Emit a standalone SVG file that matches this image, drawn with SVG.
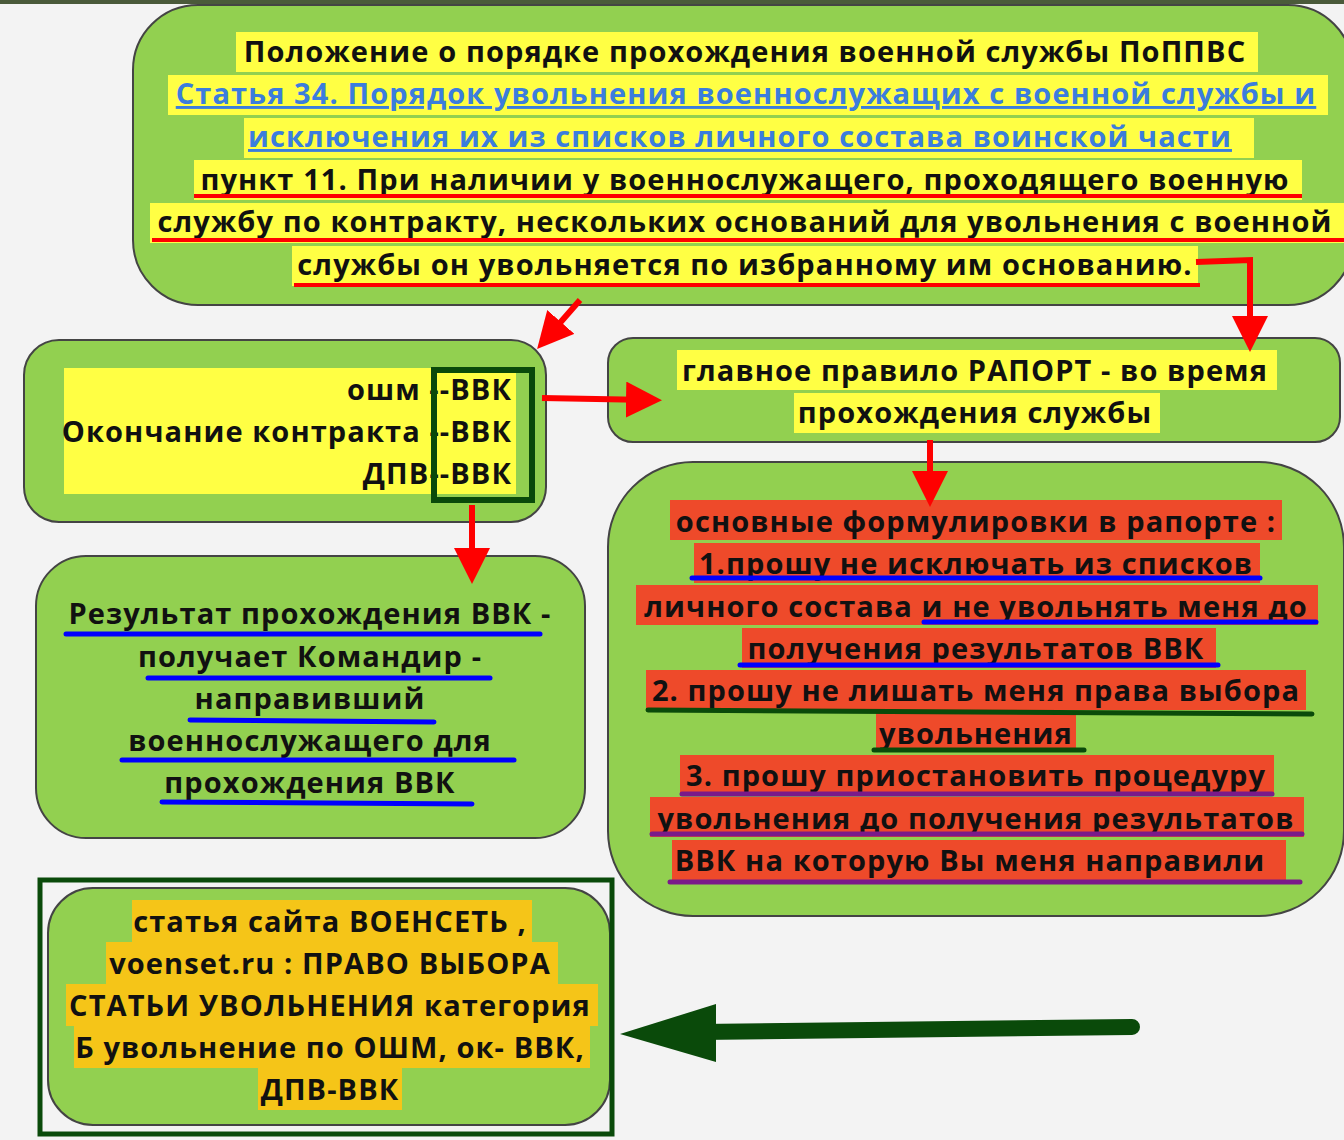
<svg xmlns="http://www.w3.org/2000/svg" width="1344" height="1140" viewBox="0 0 1344 1140">
<style>
.box{fill:#92d050;stroke:#444;stroke-width:2}
.t{font-family:"Open Sans","DejaVu Sans",sans-serif;font-weight:bold;font-size:29px;letter-spacing:1.1px;fill:#111;text-anchor:middle}
.lnk{fill:#3b7ddd;text-decoration:underline}
.y{fill:#ffff44}.o{fill:#ee4a2a}.g{fill:#f5c518}
.ur{stroke:#f00;stroke-width:4}.ub{stroke:#00f;stroke-width:5;stroke-linecap:round}
.ug{stroke:#0a4a0a;stroke-width:5;stroke-linecap:round}.up{stroke:#7a1a8a;stroke-width:5;stroke-linecap:round}
.ra{stroke:#f00;stroke-width:6;fill:none}
</style>
<defs>
<marker id="rh" markerWidth="6" markerHeight="6" refX="4" refY="3" orient="auto" markerUnits="strokeWidth"><path d="M0,0L6,3L0,6Z" fill="#f00"/></marker>
</defs>
<rect width="1344" height="1140" fill="#f3f3f3"/>
<rect width="1344" height="4" fill="#4a5a3a"/>
<g id="top">
<rect class="box" x="133" y="5" width="1220" height="300" rx="65"/>
<rect class="y" x="236" y="32" width="1022" height="40"/>
<rect class="y" x="168" y="75" width="1160" height="40"/>
<rect class="y" x="244" y="118" width="1010" height="40"/>
<rect class="y" x="194" y="160" width="1108" height="40"/>
<rect class="y" x="150" y="203" width="1194" height="40"/>
<rect class="y" x="292" y="246" width="906" height="40"/>
<text class="t" x="745" y="62">Положение о порядке прохождения военной службы ПоППВС</text>
<text class="t lnk" x="746" y="104">Статья 34. Порядок увольнения военнослужащих с военной службы и</text>
<text class="t lnk" x="740" y="147">исключения их из списков личного состава воинской части</text>
<text class="t" x="745" y="190">пункт 11. При наличии у военнослужащего, проходящего военную</text>
<text class="t" x="745" y="232">службу по контракту, нескольких оснований для увольнения с военной</text>
<text class="t" x="745" y="275">службы он увольняется по избранному им основанию.</text>
<line class="ur" x1="194" y1="196" x2="1302" y2="196"/>
<line class="ur" x1="152" y1="240" x2="1344" y2="240"/>
<line class="ur" x1="294" y1="285" x2="1200" y2="285"/>
</g>
<g id="oshm">
<rect class="box" x="24" y="340" width="522" height="182" rx="35"/>
<rect class="y" x="64" y="368" width="452" height="126"/>
<text class="t" x="512" y="400" style="text-anchor:end">ошм --ВВК</text>
<text class="t" x="512" y="442" style="text-anchor:end">Окончание контракта --ВВК</text>
<text class="t" x="512" y="484" style="text-anchor:end">ДПВ--ВВК</text>
<rect x="434" y="370" width="98" height="130" fill="none" stroke="#0a4a0a" stroke-width="6"/>
</g>
<g id="rule">
<rect class="box" x="608" y="338" width="732" height="104" rx="25"/>
<rect class="y" x="677" y="350" width="600" height="40"/>
<rect class="y" x="794" y="393" width="366" height="40"/>
<text class="t" x="975" y="381">главное правило РАПОРТ - во время</text>
<text class="t" x="975" y="423">прохождения службы</text>
</g>
<g id="form">
<rect class="box" x="608" y="462" width="736" height="454" rx="85"/>
<rect class="o" x="670" y="500" width="612" height="40"/>
<rect class="o" x="694" y="543" width="566" height="40"/>
<rect class="o" x="636" y="585" width="682" height="40"/>
<rect class="o" x="742" y="628" width="474" height="40"/>
<rect class="o" x="646" y="670" width="660" height="40"/>
<rect class="o" x="876" y="712" width="200" height="40"/>
<rect class="o" x="680" y="755" width="594" height="40"/>
<rect class="o" x="650" y="797" width="654" height="40"/>
<rect class="o" x="672" y="840" width="614" height="40"/>
<text class="t" x="976" y="532">основные формулировки в рапорте :</text>
<text class="t" x="976" y="574">1.прошу не исключать из списков</text>
<text class="t" x="976" y="617">личного состава  и не увольнять меня до</text>
<text class="t" x="976" y="659">получения результатов ВВК</text>
<text class="t" x="976" y="701">2. прошу не лишать меня права выбора</text>
<text class="t" x="976" y="744">увольнения</text>
<text class="t" x="976" y="786">3. прошу приостановить процедуру</text>
<text class="t" x="976" y="829">увольнения до получения результатов</text>
<text class="t" x="970" y="871">ВВК на которую Вы меня направили</text>
<line class="ub" x1="692" y1="578" x2="1260" y2="578"/>
<line class="ub" x1="924" y1="622" x2="1316" y2="622"/>
<line class="ub" x1="740" y1="665" x2="1218" y2="665"/>
<line class="ug" x1="648" y1="710" x2="1312" y2="714"/>
<line class="ug" x1="874" y1="750" x2="1084" y2="750"/>
<line class="up" x1="682" y1="794" x2="1272" y2="794"/>
<line class="up" x1="652" y1="834" x2="1302" y2="834"/>
<line class="up" x1="670" y1="882" x2="1300" y2="882"/>
</g>
<g id="result">
<rect class="box" x="36" y="556" width="549" height="282" rx="50"/>
<text class="t" x="310" y="624">Результат прохождения ВВК -</text>
<text class="t" x="310" y="667">получает Командир -</text>
<text class="t" x="310" y="709">направивший</text>
<text class="t" x="310" y="751">военнослужащего для</text>
<text class="t" x="310" y="793">прохождения ВВК</text>
<line class="ub" x1="66" y1="634" x2="540" y2="634"/>
<line class="ub" x1="148" y1="678" x2="490" y2="678"/>
<line class="ub" x1="190" y1="720" x2="434" y2="722"/>
<line class="ub" x1="122" y1="760" x2="514" y2="760"/>
<line class="ub" x1="162" y1="802" x2="472" y2="804"/>
</g>
<g id="site">
<rect class="box" x="48" y="888" width="562" height="237" rx="45"/>
<rect x="40" y="880" width="572" height="254" fill="none" stroke="#0a4a0a" stroke-width="5"/>
<rect class="g" x="132" y="900" width="400" height="42"/>
<rect class="g" x="106" y="942" width="452" height="42"/>
<rect class="g" x="66" y="984" width="532" height="42"/>
<rect class="g" x="74" y="1026" width="516" height="42"/>
<rect class="g" x="258" y="1068" width="144" height="42"/>
<text class="t" x="330" y="932">статья сайта ВОЕНСЕТЬ ,</text>
<text class="t" x="330" y="974">voenset.ru : ПРАВО ВЫБОРА</text>
<text class="t" x="330" y="1016">СТАТЬИ УВОЛЬНЕНИЯ категория</text>
<text class="t" x="330" y="1058">Б увольнение по ОШМ, ок- ВВК,</text>
<text class="t" x="330" y="1100">ДПВ-ВВК</text>
</g>
<g id="connectors">
<line class="ra" x1="580" y1="300" x2="545" y2="340" marker-end="url(#rh)"/>
<polyline class="ra" points="1196,262 1250,260 1250,340" marker-end="url(#rh)"/>
<line class="ra" x1="542" y1="398" x2="650" y2="400" marker-end="url(#rh)"/>
<line class="ra" x1="930" y1="440" x2="930" y2="495" marker-end="url(#rh)"/>
<line class="ra" x1="472" y1="505" x2="472" y2="572" marker-end="url(#rh)"/>
<line x1="1132" y1="1027" x2="700" y2="1032" stroke="#0a4a0a" stroke-width="16" stroke-linecap="round"/>
<polygon points="620,1034 716,1004 716,1062" fill="#0a4a0a"/>
</g>
</svg>
